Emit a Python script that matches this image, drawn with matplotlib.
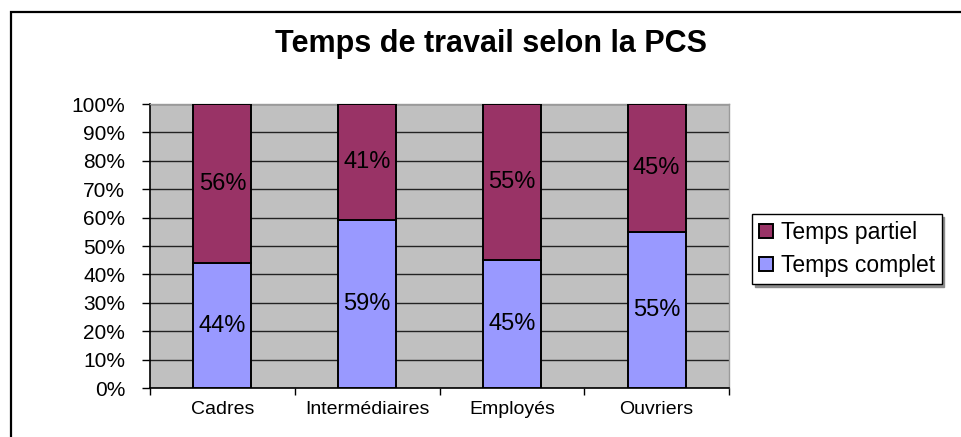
import matplotlib

matplotlib.use("Agg")
import matplotlib.pyplot as plt
from matplotlib.patches import Rectangle
import numpy as np

categories = ["Cadres", "Intermédiaires", "Employés", "Ouvriers"]
temps_complet = [44, 59, 45, 55]
temps_partiel = [56, 41, 55, 45]
y_ticks = [0, 10, 20, 30, 40, 50, 60, 70, 80, 90, 100]

PURPLE = "#993366"
BLUE = "#9999FF"
PLOT_BG = "#C0C0C0"

plt.rcParams["font.family"] = ["Liberation Sans", "DejaVu Sans"]

fig = plt.figure(figsize=(9.61, 4.37), dpi=100)
ax = fig.add_axes([150 / 961, 1 - 388 / 437, (729 - 150) / 961, (388 - 104) / 437])
ax.set_facecolor(PLOT_BG)

x = np.arange(len(categories))
width = 0.4
bars_c = ax.bar(x, temps_complet, width, color=BLUE, edgecolor="black", linewidth=1.4,
                label="Temps complet", zorder=3)
bars_p = ax.bar(x, temps_partiel, width, bottom=temps_complet, color=PURPLE, edgecolor="black",
                linewidth=1.4, label="Temps partiel", zorder=3)

for rect, val in zip(bars_c, temps_complet):
    ax.text(rect.get_x() + rect.get_width() / 2, rect.get_y() + rect.get_height() / 2,
            f"{val}%", ha="center", va="center", fontsize=17, zorder=4)
for rect, val in zip(bars_p, temps_partiel):
    ax.text(rect.get_x() + rect.get_width() / 2, rect.get_y() + rect.get_height() / 2,
            f"{val}%", ha="center", va="center", fontsize=17, zorder=4)

ax.set_xlim(-0.5, len(categories) - 0.5)
ax.set_ylim(0, 100)
ax.set_yticks(y_ticks)
ax.set_yticklabels([f"{t}%" for t in y_ticks])
ax.yaxis.grid(True, color="#222222", linewidth=1.0, zorder=1)
ax.set_axisbelow(True)

# category ticks sit between the bars
ax.set_xticks(np.arange(len(categories) + 1) - 0.5)
ax.set_xticklabels([])
ax.set_xticks(x, minor=True)
ax.set_xticklabels(categories, minor=True)
ax.tick_params(axis="x", which="major", direction="out", length=5, width=1, color="black")
ax.tick_params(axis="x", which="minor", length=0, pad=9, labelsize=14)
ax.tick_params(axis="y", direction="out", length=6, width=1, pad=12, labelsize=15)

for side in ["left", "bottom"]:
    ax.spines[side].set_color("black")
    ax.spines[side].set_linewidth(1.2)
for side in ["top", "right"]:
    ax.spines[side].set_color("#9a9a9a")
    ax.spines[side].set_linewidth(1.0)

fig.text(491 / 961, 1 - 44 / 437, "Temps de travail selon la PCS", ha="center", va="center",
         fontsize=22, fontweight="bold")

leg = fig.legend(handles=[bars_p, bars_c], labels=["Temps partiel", "Temps complet"],
                 loc="upper left", bbox_to_anchor=(752 / 961, 1 - 214 / 437),
                 fontsize=16.5, frameon=True, fancybox=False, edgecolor="black",
                 handlelength=0.6, handleheight=0.6, handletextpad=0.35,
                 borderpad=0.3, labelspacing=0.45, borderaxespad=0,
                 shadow={"color": "0.55", "alpha": 1, "ox": 2, "oy": -2})
leg.get_frame().set_linewidth(1.0)

# outer chart border (cut at right and bottom of the picture)
fig.patches.append(Rectangle((11 / 961, -0.1), 1.2, 1 - 12 / 437 + 0.1, transform=fig.transFigure,
                             fill=False, edgecolor="black", linewidth=1.6, figure=fig))

fig.savefig("out.png", dpi=100)
